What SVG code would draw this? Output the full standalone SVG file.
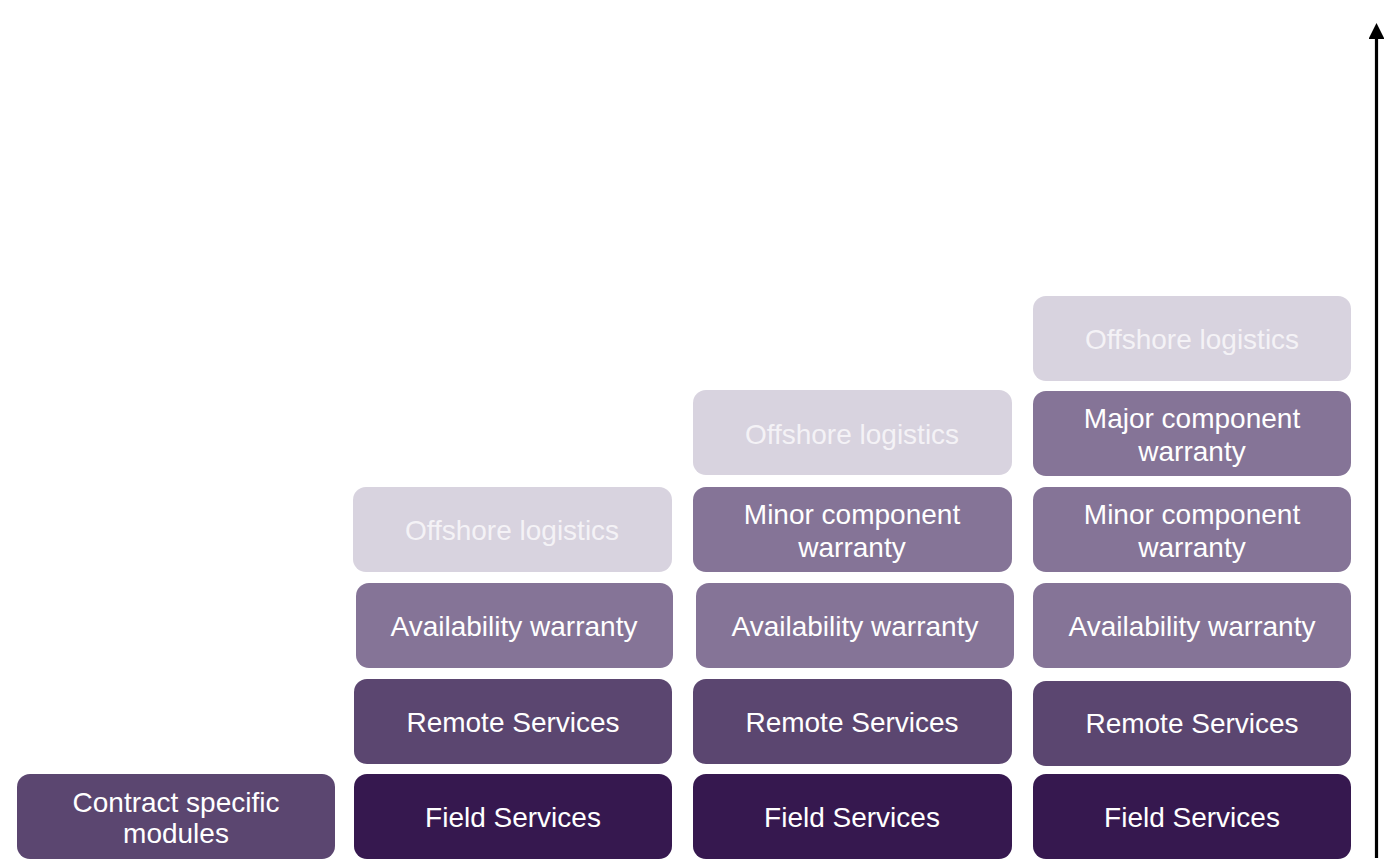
<svg xmlns="http://www.w3.org/2000/svg" width="1384" height="865" viewBox="0 0 1384 865">
<defs>
<marker id="ah" viewBox="0 0 16 16" refX="1" refY="8" markerWidth="16" markerHeight="16" markerUnits="userSpaceOnUse" orient="auto">
<path d="M0,0 L16,8 L0,16 Z" fill="#000000"/>
</marker>
</defs>
<style>
.fs{fill:#36184f}
.rs{fill:#5b4670}
.wa{fill:#857497}
.ol{fill:#d8d3df}
.t{font-family:'Liberation Sans',Arial,Helvetica,sans-serif;font-size:28px;fill:#ffffff;text-anchor:middle}
.lt{fill:#f4f2f6}
</style>
<rect width="1384" height="865" fill="#ffffff"/>
<g id="connectors">
<line x1="1376.5" y1="858" x2="1376.5" y2="38" stroke="#000000" stroke-width="3.2" marker-end="url(#ah)"/>
</g>
<g id="contract">
<rect class="rs" x="17" y="774" width="318" height="85" rx="13" ry="13"/>
<text class="t" x="176" y="812">Contract specific</text>
<text class="t" x="176" y="843">modules</text>
</g>
<g id="c1-field"><rect class="fs" x="354" y="774" width="318" height="85" rx="13" ry="13"/><text class="t" x="513" y="827">Field Services</text></g>
<g id="c1-remote"><rect class="rs" x="354" y="679" width="318" height="85" rx="13" ry="13"/><text class="t" x="513" y="732">Remote Services</text></g>
<g id="c1-avail"><rect class="wa" x="356" y="583" width="317" height="85" rx="13" ry="13"/><text class="t" x="514" y="636">Availability warranty</text></g>
<g id="c1-offshore"><rect class="ol" x="353" y="487" width="319" height="85" rx="13" ry="13"/><text class="t lt" x="512" y="540">Offshore logistics</text></g>

<g id="c2-field"><rect class="fs" x="693" y="774" width="319" height="85" rx="13" ry="13"/><text class="t" x="852" y="827">Field Services</text></g>
<g id="c2-remote"><rect class="rs" x="693" y="679" width="319" height="85" rx="13" ry="13"/><text class="t" x="852" y="732">Remote Services</text></g>
<g id="c2-avail"><rect class="wa" x="696" y="583" width="318" height="85" rx="13" ry="13"/><text class="t" x="855" y="636">Availability warranty</text></g>
<g id="c2-minor"><rect class="wa" x="693" y="487" width="319" height="85" rx="13" ry="13"/><text class="t" x="852" y="524">Minor component</text><text class="t" x="852" y="557">warranty</text></g>
<g id="c2-offshore"><rect class="ol" x="693" y="390" width="319" height="85" rx="13" ry="13"/><text class="t lt" x="852" y="444">Offshore logistics</text></g>

<g id="c3-field"><rect class="fs" x="1033" y="774" width="318" height="85" rx="13" ry="13"/><text class="t" x="1192" y="827">Field Services</text></g>
<g id="c3-remote"><rect class="rs" x="1033" y="681" width="318" height="85" rx="13" ry="13"/><text class="t" x="1192" y="733">Remote Services</text></g>
<g id="c3-avail"><rect class="wa" x="1033" y="583" width="318" height="85" rx="13" ry="13"/><text class="t" x="1192" y="636">Availability warranty</text></g>
<g id="c3-minor"><rect class="wa" x="1033" y="487" width="318" height="85" rx="13" ry="13"/><text class="t" x="1192" y="524">Minor component</text><text class="t" x="1192" y="557">warranty</text></g>
<g id="c3-major"><rect class="wa" x="1033" y="391" width="318" height="85" rx="13" ry="13"/><text class="t" x="1192" y="428">Major component</text><text class="t" x="1192" y="461">warranty</text></g>
<g id="c3-offshore"><rect class="ol" x="1033" y="296" width="318" height="85" rx="13" ry="13"/><text class="t lt" x="1192" y="349">Offshore logistics</text></g>
</svg>
